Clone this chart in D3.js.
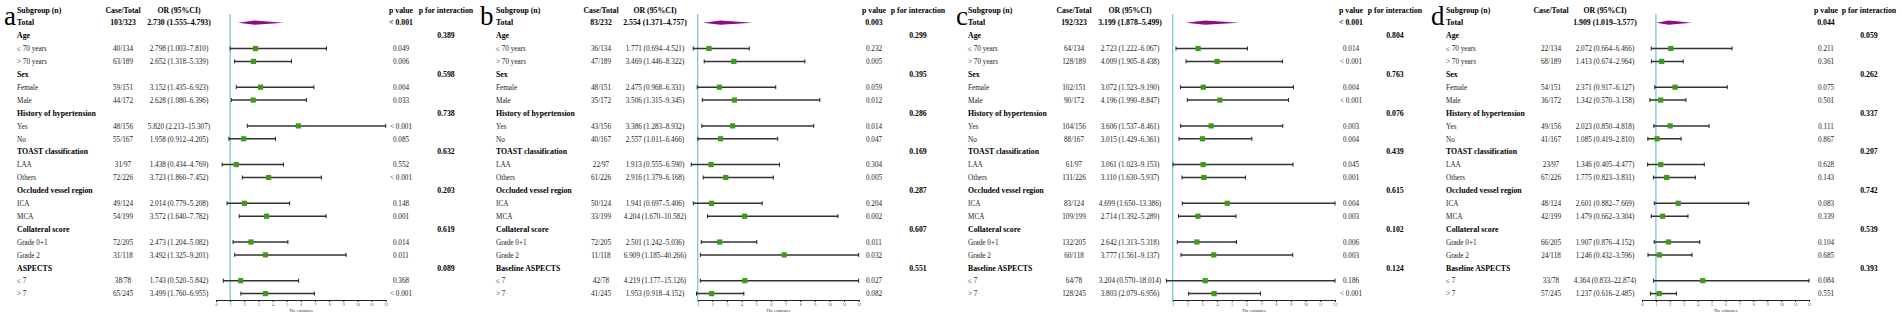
<!DOCTYPE html>
<html>
<head>
<meta charset="utf-8">
<script src="https://cdn.jsdelivr.net/npm/d3@7"></script>
<style>
  body { margin: 0; background: #fff; }
  svg { display: block; font-family: "Times New Roman", "Liberation Serif", serif; }
</style>
</head>
<body>
<div id="chart"></div>
<script>
// forest plots a-d, subgroup odds ratios

const panelLetters = ["a", "b", "c", "d"];
const groupNames = ["Age", "Sex", "History of hypertension", "TOAST classification",
  "Occluded vessel region", "Collateral score", "ASPECTS"];
const groupNamesBCD = ["Age", "Sex", "History of hypertension", "TOAST classification",
  "Occluded vessel region", "Collateral score", "Baseline ASPECTS"];
const subLabels = ["≤ 70 years", "> 70 years", "Female", "Male", "Yes", "No", "LAA", "Others",
  "ICA", "MCA", "Grade 0+1", "Grade 2", "≤ 7", "> 7"];

// row 0 is Total, then the 14 subgroups
const caseA = ["103/323", "40/134", "63/189", "59/151", "44/172", "48/156", "55/167", "31/97", "72/226", "49/124", "54/199", "72/205", "31/118", "38/78", "65/245"];
const orA = [2.730, 2.798, 2.652, 3.152, 2.628, 5.820, 1.958, 1.438, 3.723, 2.014, 3.572, 2.473, 3.492, 1.743, 3.499];
const loA = [1.555, 1.003, 1.318, 1.435, 1.080, 2.213, 0.912, 0.434, 1.860, 0.779, 1.640, 1.204, 1.325, 0.520, 1.760];
const hiA = [4.793, 7.810, 5.339, 6.923, 6.396, 15.307, 4.205, 4.769, 7.452, 5.208, 7.782, 5.082, 9.201, 5.842, 6.955];
const pA = ["< 0.001", "0.049", "0.006", "0.004", "0.033", "< 0.001", "0.085", "0.552", "< 0.001", "0.148", "0.001", "0.014", "0.011", "0.368", "< 0.001"];
const intA = ["0.389", "0.598", "0.738", "0.632", "0.203", "0.619", "0.089"];

const caseB = ["83/232", "36/134", "47/189", "48/151", "35/172", "43/156", "40/167", "22/97", "61/226", "50/124", "33/199", "72/205", "11/118", "42/78", "41/245"];
const orB = [2.554, 1.771, 3.469, 2.475, 3.506, 3.386, 2.557, 1.913, 2.916, 1.941, 4.204, 2.501, 6.909, 4.219, 1.953];
const loB = [1.371, 0.694, 1.446, 0.968, 1.315, 1.283, 1.011, 0.555, 1.379, 0.697, 1.670, 1.242, 1.185, 1.177, 0.918];
const hiB = [4.757, 4.521, 8.322, 6.331, 9.345, 8.932, 6.466, 6.590, 6.168, 5.406, 10.582, 5.036, 40.266, 15.126, 4.152];
const pB = ["0.003", "0.232", "0.005", "0.059", "0.012", "0.014", "0.047", "0.304", "0.005", "0.204", "0.002", "0.011", "0.032", "0.027", "0.082"];
const intB = ["0.299", "0.395", "0.286", "0.169", "0.287", "0.607", "0.551"];

const caseC = ["192/323", "64/134", "128/189", "102/151", "90/172", "104/156", "88/167", "61/97", "131/226", "83/124", "109/199", "132/205", "60/118", "64/78", "128/245"];
const orC = [3.199, 2.723, 4.009, 3.072, 4.196, 3.606, 3.015, 3.061, 3.110, 4.699, 2.714, 2.642, 3.777, 3.204, 3.803];
const loC = [1.878, 1.222, 1.905, 1.523, 1.990, 1.537, 1.429, 1.023, 1.630, 1.650, 1.392, 1.313, 1.561, 0.570, 2.079];
const hiC = [5.499, 6.067, 8.438, 9.190, 8.847, 8.461, 6.361, 9.153, 5.937, 13.386, 5.289, 5.318, 9.137, 18.014, 6.956];
const pC = ["< 0.001", "0.014", "< 0.001", "0.004", "< 0.001", "0.003", "0.004", "0.045", "0.001", "0.004", "0.003", "0.006", "0.003", "0.186", "< 0.001"];
const intC = ["0.804", "0.763", "0.076", "0.439", "0.615", "0.102", "0.124"];

const caseD = ["", "22/134", "68/189", "54/151", "36/172", "49/156", "41/167", "23/97", "67/226", "48/124", "42/199", "66/205", "24/118", "33/78", "57/245"];
const orD = [1.909, 2.072, 1.413, 2.371, 1.342, 2.023, 1.085, 1.346, 1.775, 2.601, 1.479, 1.907, 1.246, 4.364, 1.237];
const loD = [1.019, 0.664, 0.674, 0.917, 0.570, 0.850, 0.419, 0.405, 0.823, 0.882, 0.662, 0.876, 0.432, 0.833, 0.616];
const hiD = [3.577, 6.466, 2.964, 6.127, 3.158, 4.818, 2.810, 4.477, 3.831, 7.669, 3.304, 4.152, 3.596, 22.874, 2.485];
const pD = ["0.044", "0.211", "0.361", "0.075", "0.501", "0.111", "0.867", "0.628", "0.143", "0.083", "0.339", "0.104", "0.685", "0.084", "0.551"];
const intD = ["0.059", "0.262", "0.337", "0.207", "0.742", "0.539", "0.393"];

const axisMin = [0, 1, 1, 0];
const axisMax = 12;

const width = 1902, height = 319;

// layout of each panel (panel-relative x)
const panels = [
  { x0: 0,    letterX: 4, labelX: 17, caseX: 123, orX: 179, ax: [216, 385.7], pX: 401, intX: 446,
    groups: groupNames, cases: caseA, or: orA, lo: loA, hi: hiA, p: pA, inter: intA },
  { x0: 475,  letterX: 5, labelX: 21, caseX: 126, orX: 180, ax: [222.7, 383.7], pX: 399, intX: 443,
    groups: groupNamesBCD, cases: caseB, or: orB, lo: loB, hi: hiB, p: pB, inter: intB },
  { x0: 950,  letterX: 6, labelX: 18, caseX: 124, orX: 180, ax: [222.7, 385], pX: 401, intX: 445,
    groups: groupNamesBCD, cases: caseC, or: orC, lo: loC, hi: hiC, p: pC, inter: intC },
  { x0: 1425, letterX: 6, labelX: 21, caseX: 126, orX: 180, ax: [217, 384], pX: 401, intX: 444,
    groups: groupNamesBCD, cases: caseD, or: orD, lo: loD, hi: hiD, p: pD, inter: intD }
];

const rowTop = 9.8, rowStep = 12.9; // header row centre, row spacing
const rowY = i => rowTop + i * rowStep;
const axisY = 300;

const fmt = d3.format(".3f");
const ciText = (o, l, h) => `${fmt(o)} (${fmt(l)}\u2013${fmt(h)})`;

const svg = d3.select("#chart")
  .append("svg")
  .attr("width", width)
  .attr("height", height)
  .attr("viewBox", [0, 0, width, height]);

panels.forEach((p, k) => {
  const g = svg.append("g").attr("transform", `translate(${p.x0},0)`);

  // build the row list: total, then group heading + 2 subgroups
  const rows = [];
  rows.push({ type: "total", i: 0 });
  p.groups.forEach((name, gi) => {
    rows.push({ type: "group", name: name, gi: gi });
    rows.push({ type: "sub", i: gi * 2 + 1 });
    rows.push({ type: "sub", i: gi * 2 + 2 });
  });
  rows.forEach((r, n) => r.y = rowY(n + 1));

  const x = d3.scaleLinear()
    .domain([axisMin[k], axisMax])
    .range(p.ax);

  // panel letter
  g.append("text")
    .attr("x", p.letterX).attr("y", 25)
    .attr("font-size", 27)
    .text(panelLetters[k]);

  // headers
  const hdr = [
    { t: "Subgroup (n)", x: p.labelX, a: "start" },
    { t: "Case/Total", x: p.caseX, a: "middle" },
    { t: "OR (95%CI)", x: p.orX, a: "middle" },
    { t: "p value", x: p.pX, a: "middle" },
    { t: "p for interaction", x: p.intX, a: "middle" }
  ];
  g.selectAll(".hdr").data(hdr).join("text")
    .attr("x", d => d.x).attr("y", rowY(0) + 2.8)
    .attr("text-anchor", d => d.a)
    .attr("font-size", 7.8).attr("font-weight", "bold")
    .text(d => d.t);

  // reference line at OR = 1
  g.append("line")
    .attr("x1", x(1)).attr("x2", x(1))
    .attr("y1", 14).attr("y2", axisY)
    .attr("stroke", "#7cc7d3").attr("stroke-width", 1.3);

  rows.forEach(r => {
    const ty = r.y + 2.7;
    if (r.type === "group") {
      g.append("text").attr("x", p.labelX).attr("y", ty)
        .attr("font-size", 7.8).attr("font-weight", "bold").text(r.name);
      g.append("text").attr("x", p.intX).attr("y", ty)
        .attr("text-anchor", "middle")
        .attr("font-size", 7.8).attr("font-weight", "bold").text(p.inter[r.gi]);
      return;
    }
    const i = r.i, bold = r.type === "total";
    const fs = bold ? 7.8 : 7.2, fw = bold ? "bold" : "normal";
    const cols = [
      { t: bold ? "Total" : subLabels[i - 1], x: p.labelX, a: "start" },
      { t: p.cases[i], x: p.caseX, a: "middle" },
      { t: ciText(p.or[i], p.lo[i], p.hi[i]), x: p.orX, a: "middle" },
      { t: p.p[i], x: p.pX, a: "middle" }
    ];
    cols.forEach(c => {
      g.append("text").attr("x", c.x).attr("y", ty)
        .attr("text-anchor", c.a)
        .attr("font-size", fs).attr("font-weight", fw)
        .attr("fill", bold ? "#000" : "#222")
        .text(c.t);
    });

    const hi = Math.min(p.hi[i], axisMax);
    if (bold) {
      // pooled estimate as diamond
      const h = 2.1;
      g.append("path")
        .attr("d", `M${x(p.lo[i])},${r.y} L${x(p.or[i])},${r.y - h} L${x(hi)},${r.y} L${x(p.or[i])},${r.y + h} Z`)
        .attr("fill", "#8b0b8b");
    } else {
      g.append("line")
        .attr("x1", x(p.lo[i])).attr("x2", x(hi))
        .attr("y1", r.y).attr("y2", r.y)
        .attr("stroke", "#333").attr("stroke-width", 1.5);
      [p.lo[i], hi].forEach(v => {
        g.append("line")
          .attr("x1", x(v)).attr("x2", x(v))
          .attr("y1", r.y - 2).attr("y2", r.y + 2)
          .attr("stroke", "#222").attr("stroke-width", 1);
      });
      g.append("rect")
        .attr("x", x(p.or[i]) - 2.6).attr("y", r.y - 2.6)
        .attr("width", 5.2).attr("height", 5.2)
        .attr("fill", "#3f9a1c");
    }
  });

  // x axis
  const ax = g.append("g")
    .attr("transform", `translate(0,${axisY})`)
    .call(d3.axisBottom(x)
      .tickValues(d3.range(axisMin[k], axisMax + 1))
      .tickFormat(d3.format("d"))
      .tickSize(2).tickPadding(1.5)
      .tickSizeOuter(0));
  ax.select(".domain").attr("stroke", "#222").attr("stroke-width", 1.1);
  ax.selectAll(".tick line").attr("stroke", "#222");
  ax.selectAll(".tick text")
    .attr("font-size", 4).attr("fill", "#444")
    .attr("font-family", "'Times New Roman', 'Liberation Serif', serif");

  g.append("text")
    .attr("x", (p.ax[0] + p.ax[1]) / 2).attr("y", 311.5)
    .attr("text-anchor", "middle")
    .attr("font-size", 4.3).attr("fill", "#333")
    .text("The estimates");
});
</script>
</body>
</html>
